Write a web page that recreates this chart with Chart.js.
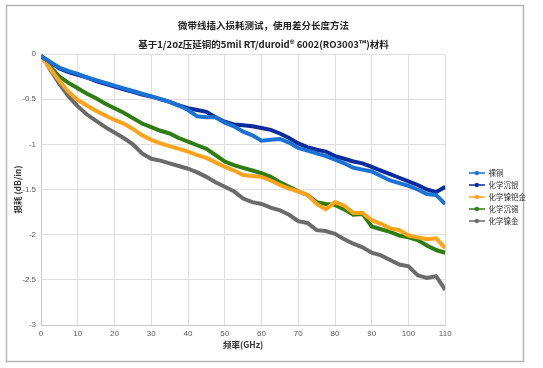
<!DOCTYPE html>
<html>
<head>
<meta charset="utf-8">
<script src="https://cdn.jsdelivr.net/npm/chart.js@4"></script>
<style>
  html, body { margin: 0; padding: 0; background: #fff; }
  #wrap { width: 543px; height: 368px; position: relative; }
</style>
</head>
<body>
<div id="wrap"><canvas id="lossChart" width="543" height="368"></canvas></div>
<script>
// frequency points (GHz)
const freqs = [0, 1, 2.5, 5, 7.5, 10, 12.5, 15, 17.5, 20, 22.5, 25, 27.5, 30, 32.5, 35, 37.5, 40, 42.5, 45, 47.5, 50,
  52.5, 55, 57.5, 60, 62.5, 65, 67.5, 70, 72.5, 75, 77.5, 80, 82.5, 85, 87.5, 90, 92.5, 95, 97.5, 100, 102.5, 105, 107.5, 110];

// insertion loss (dB/in)
const bareCopper = [-0.02, -0.05, -0.09, -0.15, -0.19, -0.22, -0.26, -0.29, -0.32, -0.35, -0.38, -0.41, -0.44, -0.47, -0.50, -0.53,
  -0.57, -0.62, -0.69, -0.70, -0.70, -0.76, -0.80, -0.86, -0.90, -0.96, -0.95, -0.94, -0.98, -1.04, -1.07, -1.10,
  -1.13, -1.17, -1.21, -1.26, -1.28, -1.30, -1.35, -1.40, -1.43, -1.46, -1.50, -1.55, -1.56, -1.66];
const immSilver = [-0.02, -0.05, -0.09, -0.16, -0.20, -0.23, -0.26, -0.30, -0.33, -0.36, -0.39, -0.42, -0.45, -0.47, -0.50, -0.53,
  -0.57, -0.60, -0.62, -0.64, -0.70, -0.75, -0.78, -0.79, -0.80, -0.82, -0.84, -0.88, -0.93, -0.99, -1.03, -1.06,
  -1.08, -1.13, -1.16, -1.19, -1.21, -1.25, -1.29, -1.33, -1.37, -1.41, -1.45, -1.50, -1.53, -1.47];
const enepig = [-0.03, -0.08, -0.16, -0.30, -0.42, -0.51, -0.57, -0.63, -0.68, -0.73, -0.77, -0.83, -0.90, -0.95, -0.99, -1.02,
  -1.05, -1.08, -1.12, -1.15, -1.20, -1.25, -1.29, -1.34, -1.35, -1.36, -1.40, -1.45, -1.49, -1.52, -1.56, -1.66,
  -1.72, -1.64, -1.68, -1.76, -1.76, -1.84, -1.88, -1.93, -1.95, -2.01, -2.03, -2.05, -2.04, -2.15];
const immTin = [-0.03, -0.07, -0.14, -0.25, -0.32, -0.38, -0.44, -0.49, -0.55, -0.60, -0.65, -0.71, -0.77, -0.81, -0.85, -0.88,
  -0.93, -0.97, -1.01, -1.05, -1.12, -1.19, -1.23, -1.26, -1.29, -1.32, -1.36, -1.42, -1.47, -1.52, -1.56, -1.64,
  -1.66, -1.67, -1.72, -1.78, -1.77, -1.91, -1.94, -1.97, -2.01, -2.03, -2.06, -2.12, -2.17, -2.20];
const enig = [-0.02, -0.07, -0.17, -0.33, -0.47, -0.58, -0.67, -0.74, -0.81, -0.87, -0.93, -1.00, -1.10, -1.16, -1.18, -1.21,
  -1.24, -1.27, -1.31, -1.36, -1.42, -1.47, -1.52, -1.60, -1.64, -1.66, -1.70, -1.73, -1.78, -1.85, -1.87, -1.95,
  -1.96, -1.99, -2.05, -2.10, -2.14, -2.20, -2.23, -2.28, -2.33, -2.35, -2.45, -2.48, -2.46, -2.61];

const seriesNames = ['裸铜', '化学沉银', '化学镍钯金', '化学沉锡', '化学镍金'];
const seriesValues = [bareCopper, immSilver, enepig, immTin, enig];
const seriesColors = ['#1b72d6', '#0b2b9e', '#ffa31a', '#2f7c10', '#6b6b6b'];

const titleLines = ['微带线插入损耗测试，使用差分长度方法', '基于1/2oz压延铜的5mil RT/duroid® 6002(RO3003™)材料'];
const xTitle = '频率(GHz)';
const yTitle = '损耗 (dB/in)';

const cjk = '"Noto Sans CJK SC", "Liberation Sans", sans-serif';

// little line-with-dot icon for the legend
function legendIcon(color) {
  const c = document.createElement('canvas');
  c.width = 16;
  c.height = 6;
  const g = c.getContext('2d');
  g.strokeStyle = color;
  g.lineWidth = 1.5;
  g.beginPath();
  g.moveTo(0, 3);
  g.lineTo(16, 3);
  g.stroke();
  g.fillStyle = color;
  g.beginPath();
  g.arc(8, 3, 2.2, 0, Math.PI * 2);
  g.fill();
  return c;
}

const framePlugin = {
  id: 'frame',
  beforeDraw(chart) {
    const ctx = chart.ctx;
    ctx.save();
    ctx.fillStyle = '#fff';
    ctx.fillRect(0, 0, chart.width, chart.height);
    ctx.strokeStyle = '#b4b4b4';
    ctx.lineWidth = 1.5;
    ctx.strokeRect(6.5, 5.5, 517, 356);
    ctx.restore();
  }
};

// push the legend a bit away from the plot, like the original
const legendShift = {
  id: 'legendShift',
  afterLayout(chart) {
    const lg = chart.legend;
    if (!lg) return;
    lg.left += 19;
    lg.right += 19;
    lg.top += 12;
    lg.bottom += 12;
  }
};

const datasets = seriesNames.map((name, i) => ({
  label: name,
  data: freqs.map((f, j) => ({ x: f, y: seriesValues[i][j] })),
  borderColor: seriesColors[i],
  backgroundColor: seriesColors[i],
  borderWidth: 4,
  pointRadius: 0,
  tension: 0,
  pointStyle: legendIcon(seriesColors[i])
}));

new Chart(document.getElementById('lossChart'), {
  type: 'line',
  data: { datasets: datasets },
  plugins: [framePlugin, legendShift],
  options: {
    responsive: false,
    animation: false,
    layout: { padding: { left: 10, right: 26, top: 16, bottom: 14 } },
    plugins: {
      title: {
        display: true,
        text: titleLines,
        color: '#222',
        font: { family: cjk, size: 9.5, weight: 'bold', lineHeight: 2 },
        padding: { top: 0, bottom: 0 }
      },
      legend: {
        position: 'right',
        labels: {
          usePointStyle: true,
          pointStyleWidth: 16,
          color: '#333',
          font: { family: cjk, size: 7.5 },
          padding: 4.5
        }
      },
      tooltip: { enabled: false }
    },
    scales: {
      x: {
        type: 'linear',
        min: 0,
        max: 110,
        ticks: { stepSize: 10, color: '#595959', font: { family: '"Liberation Sans", sans-serif', size: 8 }, padding: 4, maxRotation: 0 },
        grid: { color: '#dedede', drawTicks: false },
        border: { color: '#c8c8c8' },
        title: { display: true, text: xTitle, color: '#333', font: { family: cjk, size: 8.5, weight: 'bold' }, padding: { top: 2, bottom: 4 } },
        afterFit: (scale) => { scale.height = 29; }
      },
      y: {
        min: -3,
        max: 0,
        ticks: {
          stepSize: 0.5,
          color: '#595959',
          font: { family: '"Liberation Sans", sans-serif', size: 8 },
          padding: 5,
          callback: (v) => String(v)
        },
        grid: { color: '#dedede', drawTicks: false },
        border: { color: '#c8c8c8' },
        title: { display: true, text: yTitle, color: '#333', font: { family: cjk, size: 8.5, weight: 'bold' }, padding: { top: 3, bottom: 2 } },
        afterFit: (scale) => { scale.width = 31; }
      }
    }
  }
});
</script>
</body>
</html>
